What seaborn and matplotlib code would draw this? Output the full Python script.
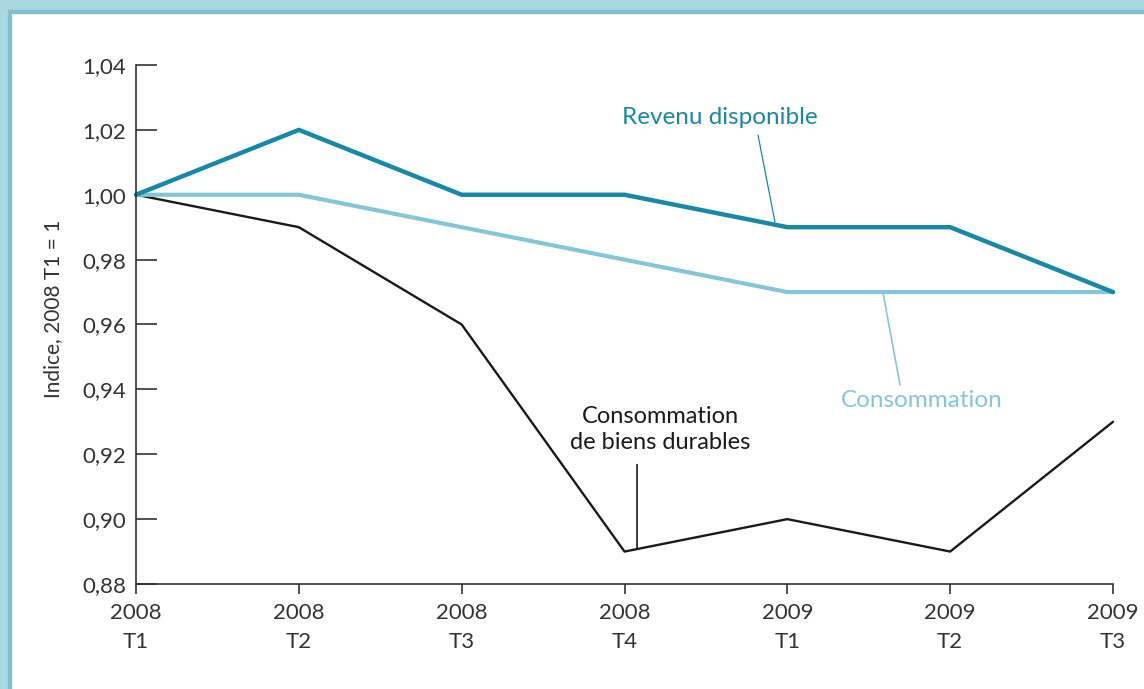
import numpy as np
import pandas as pd
import matplotlib.pyplot as plt
import seaborn as sns
from matplotlib.patches import Rectangle
from matplotlib.ticker import FuncFormatter

# Données (indice, 2008 T1 = 1)
periodes = ["2008\nT1", "2008\nT2", "2008\nT3", "2008\nT4", "2009\nT1", "2009\nT2", "2009\nT3"]
revenu = [1.00, 1.02, 1.00, 1.00, 0.99, 0.99, 0.97]
consommation = [1.00, 1.00, 0.99, 0.98, 0.97, 0.97, 0.97]
durables = [1.00, 0.99, 0.96, 0.89, 0.90, 0.89, 0.93]

df = pd.DataFrame({
    "pos": list(range(len(periodes))) * 3,
    "valeur": revenu + consommation + durables,
    "serie": ["Revenu disponible"] * 7 + ["Consommation"] * 7 + ["Biens durables"] * 7,
})

sns.set_style("white")
plt.rcParams["font.family"] = ["Lato", "DejaVu Sans"]

c_rev = "#1788a6"
c_cons = "#84c6d8"
c_dur = "#1a1a1a"
gris = "#333333"

fig = plt.figure(figsize=(11.44, 6.89), dpi=100)
ax = fig.add_axes([136 / 1144, 1 - 584 / 689, (1113 - 136) / 1144, (584 - 65) / 689])

palette = {"Revenu disponible": c_rev, "Consommation": c_cons, "Biens durables": c_dur}
sizes = {"Revenu disponible": 3.2, "Consommation": 3.0, "Biens durables": 1.7}
for serie in ["Biens durables", "Consommation", "Revenu disponible"]:
    sub = df[df["serie"] == serie]
    sns.lineplot(data=sub, x="pos", y="valeur", color=palette[serie],
                 linewidth=sizes[serie], ax=ax, legend=False, clip_on=False)

ax.set_xlim(0, 6)
ax.set_ylim(0.88, 1.04)
ax.set_yticks(np.arange(0.88, 1.041, 0.02))
ax.yaxis.set_major_formatter(FuncFormatter(lambda v, p: f"{v:.2f}".replace(".", ",")))
ax.set_xticks(range(len(periodes)))
ax.set_xticklabels(periodes, linespacing=1.55)
ax.set_xlabel("")
ax.set_ylabel("Indice, 2008 T1 = 1", fontsize=15, color=gris)
ax.yaxis.set_label_coords(-0.075, 0.53)

for s in ["top", "right"]:
    ax.spines[s].set_visible(False)
for s in ["left", "bottom"]:
    ax.spines[s].set_color(gris)
    ax.spines[s].set_linewidth(1.2)

ax.tick_params(axis="y", direction="in", length=15, width=1.2, color=gris,
               labelsize=16, labelcolor=gris, pad=7, left=True)
ax.tick_params(axis="x", direction="out", length=7, width=1.2, color=gris,
               labelsize=16, labelcolor=gris, pad=7, bottom=True)

# Annotations
ax.text(3.587, 1.0237, "Revenu disponible", color=c_rev, fontsize=17.5,
        ha="center", va="center")
ax.annotate("", xy=(3.924, 0.9916), xytext=(3.82, 1.0184),
            arrowprops=dict(arrowstyle="-", color=c_rev, lw=0.9, shrinkA=0, shrinkB=0))

ax.text(4.827, 0.9367, "Consommation", color=c_cons, fontsize=17.5,
        ha="center", va="center")
ax.annotate("", xy=(4.588, 0.9697), xytext=(4.692, 0.9414),
            arrowprops=dict(arrowstyle="-", color=c_cons, lw=1.2, shrinkA=0, shrinkB=0))

ax.text(3.218, 0.9275, "Consommation\nde biens durables", color=c_dur, fontsize=17,
        ha="center", va="center", linespacing=1.3)
ax.annotate("", xy=(3.077, 0.8907), xytext=(3.077, 0.9168),
            arrowprops=dict(arrowstyle="-", color=c_dur, lw=1.2, shrinkA=0, shrinkB=0))

# Cadre bleu clair
fig.patches.append(Rectangle((0, 1 - 10 / 689), 1, 10 / 689, transform=fig.transFigure,
                             color="#a9d8e1", zorder=0))
fig.patches.append(Rectangle((0, 1 - 13 / 689), 1, 3 / 689, transform=fig.transFigure,
                             color="#80bfcc", zorder=0))
fig.patches.append(Rectangle((0, 0), 8 / 1144, 1, transform=fig.transFigure,
                             color="#a9d8e1", zorder=0))
fig.patches.append(Rectangle((8 / 1144, 0), 3 / 1144, 1 - 10 / 689, transform=fig.transFigure,
                             color="#80bfcc", zorder=0))

fig.savefig("out.png", dpi=100)
